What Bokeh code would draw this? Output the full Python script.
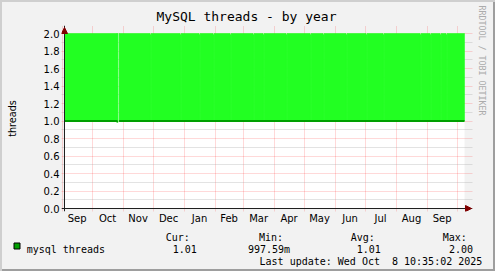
import math
import pandas as pd
from bokeh.plotting import figure
from bokeh.layouts import column
from bokeh.models import (Range1d, FixedTicker, DatetimeTickFormatter, PrintfTickFormatter,
                          Title, Arrow, NormalHead, BoxAnnotation, Span, ColumnDataSource)
from bokeh.core.properties import value
from bokeh.embed import file_html
from bokeh.resources import INLINE

NAN = float("nan")

# ---------------- data ----------------
title_text = "MySQL threads - by year"
y_axis_label = "threads"
credit_text = "RRDTOOL / TOBI OETIKER"
series_name = "mysql threads"
graph_start = "2024-09-03 10:35:02"
graph_end = "2025-10-08 10:35:02"

# change points of the consolidated series (value holds until next time)
sample_times = [
    "2024-09-03 10:35", "2024-10-26", "2024-10-27", "2024-10-28",
    "2024-11-28", "2024-11-29", "2024-12-28", "2024-12-29",
    "2025-01-16", "2025-01-17", "2025-01-30", "2025-01-31",
    "2025-02-16", "2025-02-17", "2025-03-11", "2025-03-12",
    "2025-03-21", "2025-03-22", "2025-04-13", "2025-04-14",
    "2025-05-07", "2025-05-08", "2025-05-20", "2025-05-21",
    "2025-06-12", "2025-06-13", "2025-07-02", "2025-07-03",
    "2025-07-19", "2025-07-20", "2025-08-25", "2025-08-26",
    "2025-09-04", "2025-09-05", "2025-09-14", "2025-09-15",
    "2025-09-20", "2025-09-21", "2025-10-08 10:35",
]
max_values = [
    2.0, 2.0, NAN, 2.0,
    1.985, 2.0, 1.985, 2.0,
    1.985, 2.0, 1.985, 2.0,
    1.985, 2.0, 1.985, 2.0,
    1.985, 2.0, 1.985, 2.0,
    1.985, 2.0, 1.985, 2.0,
    1.985, 2.0, 1.985, 2.0,
    1.985, 2.0, 1.985, 2.0,
    1.985, 2.0, 1.985, 2.0,
    1.985, 2.0, 2.0,
]
avg_values = [
    1.0, 0.985, NAN, 1.0,
    1.0, 1.0, 1.0, 1.0,
    1.0, 1.0, 1.0, 1.0,
    1.0, 1.0, 1.0, 1.0,
    1.0, 1.0, 1.0, 1.0,
    1.0, 1.0, 1.0, 1.0,
    1.0, 1.0, 1.0, 1.0,
    1.0, 1.0, 1.0, 1.0,
    1.0, 1.0, 1.0, 1.0,
    1.0, 1.0, 1.0,
]

month_starts = ["2024-09-01", "2024-10-01", "2024-11-01", "2024-12-01", "2025-01-01",
                "2025-02-01", "2025-03-01", "2025-04-01", "2025-05-01", "2025-06-01",
                "2025-07-01", "2025-08-01", "2025-09-01", "2025-10-01"]
month_labels = ["Sep", "Oct", "Nov", "Dec", "Jan", "Feb", "Mar", "Apr", "May", "Jun",
                "Jul", "Aug", "Sep"]
y_ticks = [0.0, 0.2, 0.4, 0.6, 0.8, 1.0, 1.2, 1.4, 1.6, 1.8, 2.0]
y_minor_ticks = [0.1, 0.3, 0.5, 0.7, 0.9, 1.1, 1.3, 1.5, 1.7, 1.9]

stat_headers = ["Cur:", "Min:", "Avg:", "Max:"]
stat_values = ["1.01", "997.59m", "1.01", "2.00"]
# (a no-break space keeps rrdtool's double space before the day)
last_update = "Last update: Wed Oct \u00a08 10:35:02 2025"

# ---------------- style ----------------
AREA_GREEN = "#22FF22"
LINE_GREEN = "#00A000"
ARROW_RED = "#800000"
AXIS_COLOR = "#202020"
BACK = "#F2F2F2"
MONO = "DejaVu Sans Mono"
SANS = "DejaVu Sans"
PX_PER_UNIT = 87.5          # vertical pixels per thread
DAY = 86400000.0             # one pixel per day

EPOCH = pd.Timestamp("1970-01-01")
def to_ms(ts):
    return (pd.Timestamp(ts) - EPOCH).total_seconds() * 1000.0

t = [to_ms(s) for s in sample_times]
src = ColumnDataSource(dict(left=t[:-1], right=t[1:], top=max_values[:-1],
                            bottom=avg_values[:-1]))
line_src = ColumnDataSource(dict(x=t, y=avg_values))

x0 = to_ms(graph_start)
x1 = to_ms(graph_end)
y_max = y_ticks[-1]

MAIN_H = 229
p = figure(width=495, height=MAIN_H, x_axis_type="datetime",
           x_range=Range1d(x0 - 3 * DAY, x1 + 8 * DAY),
           y_range=Range1d(-3 / PX_PER_UNIT, y_max + 8 / PX_PER_UNIT),
           output_backend="svg", toolbar_location=None, title=None,
           min_border_left=61, min_border_right=23, min_border_top=25,
           min_border_bottom=MAIN_H - 211)
p.frame_align = False
p.border_fill_color = None
p.background_fill_color = None
p.outline_line_color = None

# white graph canvas
p.add_layout(BoxAnnotation(left=x0, right=x1, bottom=0, top=y_max, fill_color="white",
                           fill_alpha=1, line_color=None, level="image"))

# axes (ticks / labels); the axis lines themselves sit at the data origin
ms = [pd.Timestamp(s) for s in month_starts]
mids = [to_ms(ms[i] + (ms[i + 1] - ms[i]) / 2) for i in range(len(month_labels))]
p.xaxis.ticker = FixedTicker(ticks=mids)
p.xaxis.formatter = DatetimeTickFormatter(
    microseconds="%b", milliseconds="%b", seconds="%b", minsec="%b", minutes="%b",
    hourmin="%b", hours="%b", days="%b", months="%b", years="%b")
p.yaxis.ticker = FixedTicker(ticks=y_ticks, minor_ticks=y_minor_ticks)
p.yaxis.formatter = PrintfTickFormatter(format="%.1f")

for ax in (p.xaxis[0], p.yaxis[0]):
    ax.axis_line_color = None
    ax.major_label_text_font = SANS
    ax.major_label_text_font_size = "10px"
    ax.major_label_text_color = "black"
    ax.minor_tick_line_color = None
    ax.major_tick_line_color = None
    ax.major_tick_in = 0
    ax.major_tick_out = 0
    ax.minor_tick_in = 0
    ax.minor_tick_out = 0
p.xaxis.major_label_standoff = 1
p.yaxis.major_label_standoff = 2
p.yaxis.axis_label = y_axis_label
p.yaxis.axis_label_text_font = SANS
p.yaxis.axis_label_text_font_size = "9.6px"
p.yaxis.axis_label_text_font_style = "normal"
p.yaxis.axis_label_text_color = "black"
p.yaxis.axis_label_standoff = 23

p.add_layout(Span(location=x0, dimension="height", line_color=AXIS_COLOR, line_width=1))
p.add_layout(Span(location=0, dimension="width", line_color=AXIS_COLOR, line_width=1))

# grids
p.xgrid.ticker = FixedTicker(ticks=[to_ms(m) for m in ms])
p.xgrid.grid_line_color = "#FF0000"
p.xgrid.grid_line_alpha = 0.3
p.xgrid.grid_line_dash = "1 1"
p.ygrid.grid_line_color = "#FF0000"
p.ygrid.grid_line_alpha = 0.3
p.ygrid.grid_line_dash = "1 1"
p.ygrid.minor_grid_line_color = "#A0A0A0"
p.ygrid.minor_grid_line_alpha = 0.6
p.ygrid.minor_grid_line_dash = "1 1"

# data
p.quad(left="left", right="right", top="top", bottom="bottom", source=src,
       fill_color=AREA_GREEN, line_color=AREA_GREEN, line_width=0.6)
p.step(x="x", y="y", source=line_src, mode="after", line_color=LINE_GREEN, line_width=2)

# axis arrows
head = dict(size=6, fill_color=ARROW_RED, line_color=ARROW_RED)
p.add_layout(Arrow(end=NormalHead(**head), x_start=x0, y_start=0, x_end=x0,
                   y_end=y_max + 6 / PX_PER_UNIT, line_alpha=0))
p.add_layout(Arrow(end=NormalHead(**head), x_start=x0, y_start=0, x_end=x1 + 7 * DAY,
                   y_end=0, line_alpha=0))

# title and credit
p.add_layout(Title(text=title_text, align="left", offset=95, standoff=3,
                   text_font=MONO, text_font_size="13px", text_font_style="normal",
                   text_color="black"), "above")
p.add_layout(Title(text=credit_text, align="left", offset=-20, standoff=8,
                   text_font=MONO, text_font_size="8.3px", text_font_style="normal",
                   text_color="#ABABAB"), "right")

# ---------------- legend strip ----------------
LEG_H = 271 - MAIN_H
q = figure(width=495, height=LEG_H, x_range=Range1d(0, 495), y_range=Range1d(271, MAIN_H),
           output_backend="svg", toolbar_location=None, title=None,
           x_axis_location=None, y_axis_location=None, min_border=0)
q.frame_align = False
q.grid.visible = False
q.border_fill_color = None
q.background_fill_color = None
q.outline_line_color = None

q.quad(left=[13.5], right=[19.5], top=[242.5], bottom=[248.5], fill_color=LINE_GREEN,
       line_color="black", line_width=1)
q.text(x=[26.2], y=[248.5], text=[series_name], text_font=value(MONO),
       text_font_size="10px", text_baseline="alphabetic", text_color="black")
q.text(x=[165.2, 258.5, 350.2, 442.2], y=[237] * 4, text=stat_headers,
       text_font=value(MONO), text_font_size="10px", text_baseline="alphabetic",
       text_color="black")
q.text(x=[172.2, 247.5, 356.2, 448.5], y=[248.5] * 4, text=stat_values,
       text_font=value(MONO), text_font_size="10px", text_baseline="alphabetic",
       text_color="black")
q.text(x=[481.8], y=[261], text=[last_update], text_font=value(MONO),
       text_font_size="10px", text_baseline="alphabetic", text_align="right",
       text_color="black")

layout = column(p, q, spacing=0)
layout.styles = {"background-color": BACK,
                 "box-shadow": "inset 2px 2px 0 #CFCFCF, inset -2px -2px 0 #9E9E9E"}

open("out.html", "w").write(file_html(layout, INLINE))
